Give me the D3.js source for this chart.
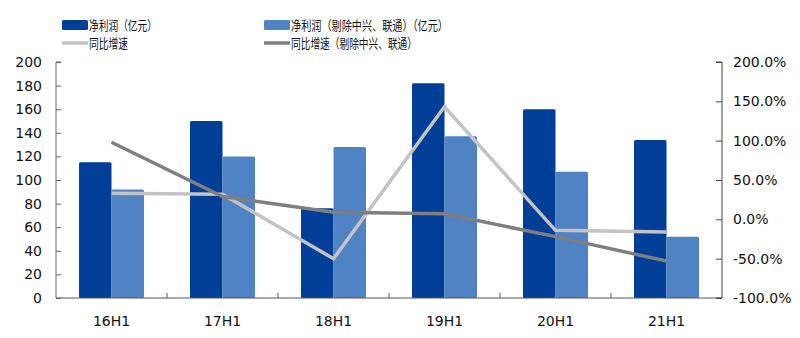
<!DOCTYPE html>
<html><head><meta charset="utf-8">
<script src="https://cdn.jsdelivr.net/npm/d3@7/dist/d3.min.js"></script>
<style>body{margin:0;background:#fff}svg{display:block}</style>
</head><body>
<svg id="c" width="800" height="338"></svg>
<script>
const categories = ["16H1","17H1","18H1","19H1","20H1","21H1"];
const netProfit = [115,150,76,182,160,134];
const netProfitEx = [92,120,128,137,107,52];
const growth = [33,32,-50,143,-14,-16];
const growthEx = [98,29,9,7,-22,-53];
const leftTicks = [0,20,40,60,80,100,120,140,160,180,200];
const rightTicks = [-100,-50,0,50,100,150,200];
const seriesNames = ["净利润（亿元）","净利润（剔除中兴、联通）（亿元）","同比增速","同比增速（剔除中兴、联通）"];
const colors = ["#003f98","#4f83c4","#c3c3c3","#7f7f7f"];

(function(){
const svg = d3.select("#c");
const pL = 56, pR = 722, pT = 62, pB = 298;
const x = d3.scaleBand().domain(categories).range([pL,pR]).paddingInner(0).paddingOuter(0);
const yL = d3.scaleLinear().domain([0,200]).range([pB,pT]);
const yR = d3.scaleLinear().domain([-100,200]).range([pB,pT]);
const bw = 32.5;
const tickFont = "'DejaVu Sans', Verdana, sans-serif";
const fs = 14;

// bars
const g = svg.append("g");
categories.forEach((c,i)=>{
  const cx = x(c) + x.bandwidth()/2;
  g.append("rect").attr("x",cx-bw).attr("width",bw).attr("y",yL(netProfit[i])).attr("height",pB-yL(netProfit[i])).attr("rx",1.5).attr("fill",colors[0]);
  g.append("rect").attr("x",cx).attr("width",bw).attr("y",yL(netProfitEx[i])).attr("height",pB-yL(netProfitEx[i])).attr("rx",1.5).attr("fill",colors[1]);
});

// axes
const axL = svg.append("g").attr("transform",`translate(${pL},0)`)
  .call(d3.axisRight(yL).tickValues(leftTicks).tickSize(5).tickFormat(""));
axL.select(".domain").attr("stroke","#666").attr("d",`M5,${pT}H0V${pB}`);
axL.selectAll(".tick line").attr("stroke","#666");
leftTicks.forEach(v=>{
  svg.append("text").attr("x",42).attr("y",yL(v)).attr("dy","0.36em").attr("text-anchor","end")
    .attr("font-family",tickFont).attr("font-size",fs).attr("fill","#111").text(v);
});
const axR = svg.append("g").attr("transform",`translate(${pR},0)`)
  .call(d3.axisLeft(yR).tickValues(rightTicks).tickSize(6).tickFormat(""));
axR.select(".domain").attr("stroke","#444").attr("d",`M-6,${pT}H0V${pB}H-6`);
axR.selectAll(".tick line").attr("stroke","#444");
rightTicks.forEach(v=>{
  svg.append("text").attr("x",733).attr("y",yR(v)).attr("dy","0.36em").attr("text-anchor","start")
    .attr("font-family",tickFont).attr("font-size",fs).attr("fill","#111").text(v.toFixed(1)+"%");
});
const axB = svg.append("g").attr("transform",`translate(0,${pB})`)
  .call(d3.axisTop(x).tickSize(0).tickFormat(""));
axB.select(".domain").attr("stroke","#555").attr("d",`M${pL},0H${pR}`);
categories.slice(1).forEach(c=>{
  svg.append("line").attr("x1",x(c)).attr("x2",x(c)).attr("y1",pB).attr("y2",pB-5).attr("stroke","#555");
});
categories.forEach(c=>{
  svg.append("text").attr("x",x(c)+x.bandwidth()/2).attr("y",326).attr("text-anchor","middle")
    .attr("font-family",tickFont).attr("font-size",fs).attr("fill","#111").text(c);
});

// lines
const line = d3.line().x((d,i)=>x(categories[i])+x.bandwidth()/2).y(d=>yR(d));
svg.append("path").datum(growth).attr("d",line).attr("fill","none").attr("stroke",colors[2]).attr("stroke-width",3.5);
svg.append("path").datum(growthEx).attr("d",line).attr("fill","none").attr("stroke",colors[3]).attr("stroke-width",3.5);

// legend
const cjk = "'Noto Sans CJK SC', sans-serif";
const leg = [
  {x:62,y:25,type:"rect",i:0,w:68},
  {x:264,y:25,type:"rect",i:1,w:157},
  {x:62,y:43,type:"line",i:2,w:39},
  {x:264,y:43,type:"line",i:3,w:126}
];
leg.forEach(l=>{
  if(l.type==="rect") svg.append("rect").attr("x",l.x).attr("y",l.y-5).attr("width",26).attr("height",10).attr("rx",1.5).attr("fill",colors[l.i]);
  else svg.append("line").attr("x1",l.x).attr("x2",l.x+26).attr("y1",l.y).attr("y2",l.y).attr("stroke",colors[l.i]).attr("stroke-width",3.5);
  svg.append("text").attr("x",l.x+27).attr("y",l.y).attr("dy","0.35em").attr("font-family",cjk).attr("font-size",13)
    .attr("textLength",l.w).attr("lengthAdjust","spacingAndGlyphs").attr("fill","#111").text(seriesNames[l.i]);
});
})();
</script>
</body></html>
